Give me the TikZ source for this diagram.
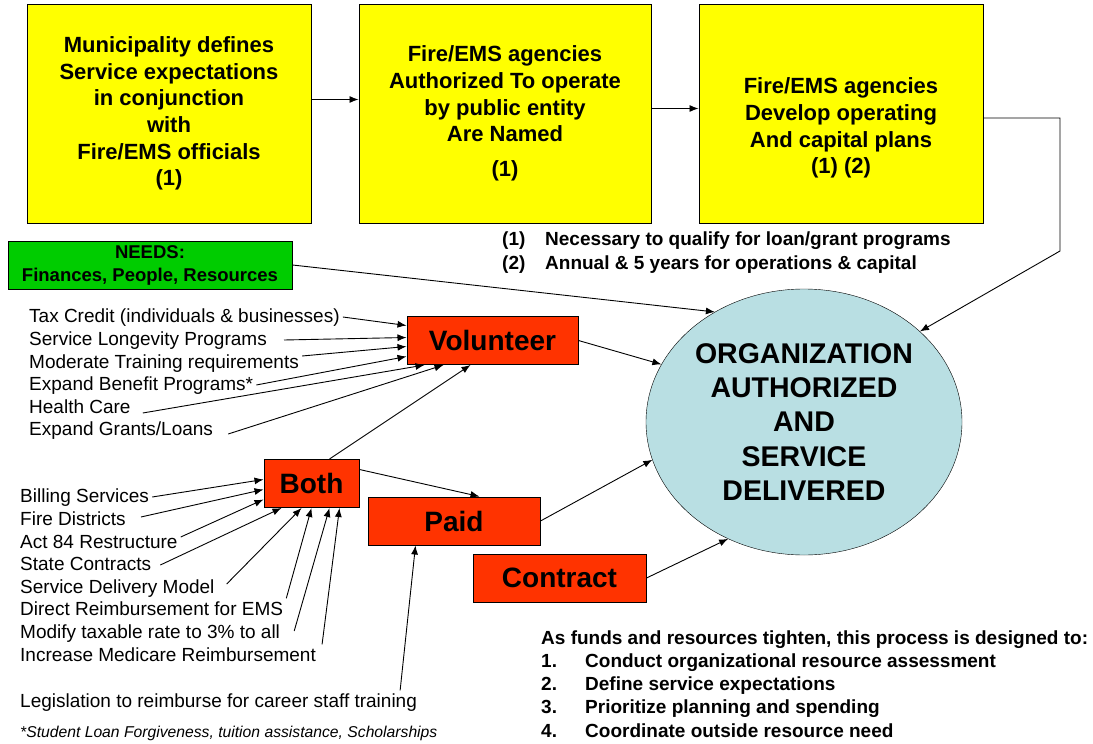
\documentclass[tikz,border=0pt]{standalone}
\usepackage{fontspec}
\setmainfont{Liberation Sans}
\usetikzlibrary{arrows.meta,shapes.geometric}
\definecolor{planyellow}{HTML}{FFFF00}
\definecolor{needgreen}{HTML}{00CC00}
\definecolor{kindred}{HTML}{FF3300}
\definecolor{orgblue}{HTML}{B9DFE3}

\tikzset{
  planbox/.style={draw, line width=1pt, fill=planyellow, minimum width=284pt, minimum height=219pt,
    align=center, inner sep=0pt, font=\bfseries\fontsize{22}{26.6}\selectfont},
  kindbox/.style={draw, line width=1pt, fill=kindred, minimum height=48pt, inner sep=0pt,
    font=\bfseries\fontsize{28}{32}\selectfont},
  feedtext/.style={anchor=west, inner sep=3pt, text height=13.5pt, text depth=3.5pt,
    font=\fontsize{19}{22.6}\selectfont},
  notetext/.style={anchor=west, inner sep=0pt, align=left, font=\bfseries\fontsize{19}{23.2}\selectfont},
  flowarrow/.style={-{Latex[length=9pt,width=7pt]}, line width=0.9pt},
}

\begin{document}
\begin{tikzpicture}[x=1pt, y=-1pt]
\useasboundingbox (0,0) rectangle (1093,744);

% planning steps
\node[planbox] (mun) at (169,113.5) {Municipality defines\\Service expectations\\in conjunction\\with\\Fire/EMS officials\\(1)};
\node[planbox, minimum width=292pt] (auth) at (505,113.5) {Fire/EMS agencies\\Authorized To operate\\by public entity\\Are Named\\[8pt](1)};
\node[planbox] (dev) at (841,113.5) {\strut\\Fire/EMS agencies\\Develop operating\\And capital plans\\(1) (2)};

\node[notetext] (fn) at (502,252.5) {\makebox[43pt][l]{(1)}Necessary to qualify for loan/grant programs\\
  \makebox[43pt][l]{(2)}Annual \& 5 years for operations \& capital};

% needs and result
\node[draw, line width=1pt, fill=needgreen, minimum width=284pt, minimum height=48pt, align=center,
  inner sep=0pt, font=\bfseries\fontsize{18.5}{23}\selectfont] (needs) at (150,265) {NEEDS:\\Finances, People, Resources};
\node[draw, ellipse, fill=orgblue, minimum width=316pt, minimum height=266pt, inner sep=0pt, align=center,
  font=\bfseries\fontsize{28.5}{34.3}\selectfont] (org) at (804,422) {ORGANIZATION\\AUTHORIZED\\AND\\SERVICE\\DELIVERED};

% service types
\node[kindbox, minimum width=171pt] (vol) at (492.5,340.5) {Volunteer};
\node[kindbox, minimum width=95pt] (both) at (311.5,483.5) {Both};
\node[kindbox, minimum width=172pt] (paid) at (454,521) {Paid};
\node[kindbox, minimum width=173pt] (contr) at (559.5,578) {Contract};

% volunteer measures
\node[feedtext] (tax) at (26,317) {Tax Credit (individuals \& businesses)};
\node[feedtext] (longev) at (26,340) {Service Longevity Programs};
\node[feedtext] (train) at (26,363) {Moderate Training requirements};
\node[feedtext] (benef) at (26,385) {Expand Benefit Programs*};
\node[feedtext] (health) at (26,408) {Health Care};
\node[feedtext] (grants) at (26,430) {Expand Grants/Loans};

% shared measures
\node[feedtext] (bill) at (17,497) {Billing Services};
\node[feedtext] (firedist) at (17,520) {Fire Districts};
\node[feedtext] (act) at (17,543) {Act 84 Restructure};
\node[feedtext] (state) at (17,565) {State Contracts};
\node[feedtext] (model) at (17,588) {Service Delivery Model};
\node[feedtext] (direct) at (17,610) {Direct Reimbursement for EMS};
\node[feedtext] (taxrate) at (17,633) {Modify taxable rate to 3\% to all};
\node[feedtext] (medic) at (17,656) {Increase Medicare Reimbursement};
\node[feedtext] (legis) at (17,702) {Legislation to reimburse for career staff training};
\node[feedtext, font=\itshape\fontsize{15.7}{18}\selectfont] (star) at (17,732) {*Student Loan Forgiveness, tuition assistance, Scholarships};

\node[notetext] (goals) at (541,684) {As funds and resources tighten, this process is designed to:\\
  \makebox[44pt][l]{1.}Conduct organizational resource assessment\\
  \makebox[44pt][l]{2.}Define service expectations\\
  \makebox[44pt][l]{3.}Prioritize planning and spending\\
  \makebox[44pt][l]{4.}Coordinate outside resource need};

% main flow
\draw[flowarrow] ([yshift=14pt]mun.east) -- ([yshift=14pt]mun.east -| auth.west);
\draw[flowarrow] ([yshift=5pt]auth.east) -- ([yshift=5pt]auth.east -| dev.west);
\coordinate (turn1) at (1060,118);
\coordinate (turn2) at (1060,251);
\draw[flowarrow] (dev.east |- turn1) -- (turn1) -- (turn2) -- (org.38);
\draw[flowarrow] (needs.east) -- (org.129);
\draw[flowarrow] (vol.east) -- (org.158);
\draw[flowarrow] (paid.east) -- (org.194);
\draw[flowarrow] (contr.east) -- (org.237);
\draw[flowarrow] ([xshift=18pt]both.north) -- ([xshift=64pt]vol.south west);
\draw[flowarrow] ([yshift=14pt]both.east) -- ([xshift=112pt]paid.north west);

% into volunteer
\draw[flowarrow] (tax.east) -- ([yshift=15pt]vol.west);
\draw[flowarrow] ([xshift=14pt]longev.east) -- ([yshift=3pt]vol.west);
\draw[flowarrow] ([yshift=7pt]train.east) -- ([yshift=-6pt]vol.west);
\draw[flowarrow] (benef.east) -- ([yshift=-16pt]vol.west);
\draw[flowarrow] ([xshift=9pt,yshift=-5pt]health.east) -- ([xshift=18pt]vol.south west);
\draw[flowarrow] ([xshift=12pt,yshift=-4pt]grants.east) -- ([xshift=37pt]vol.south west);

% into both / paid
\draw[flowarrow] (bill.east) -- ([yshift=4pt]both.west);
\draw[flowarrow] ([xshift=12pt,yshift=3pt]firedist.east) -- ([yshift=-6pt]both.west);
\draw[flowarrow] ([yshift=6pt]act.east) -- ([yshift=-16pt]both.west);
\draw[flowarrow] ([xshift=6pt]state.east) -- ([xshift=18pt]both.south west);
\draw[flowarrow] ([xshift=9pt,yshift=4pt]model.east) -- ([xshift=38pt]both.south west);
\draw[flowarrow] (direct.north east) -- ([xshift=48pt]both.south west);
\draw[flowarrow] ([xshift=11pt,yshift=2pt]taxrate.east) -- ([xshift=66pt]both.south west);
\draw[flowarrow] ([xshift=3pt]medic.north east) -- ([xshift=76pt]both.south west);
\draw[flowarrow] ([xshift=-20pt]legis.north east) -- ([xshift=48pt]paid.south west);

\end{tikzpicture}
\end{document}
